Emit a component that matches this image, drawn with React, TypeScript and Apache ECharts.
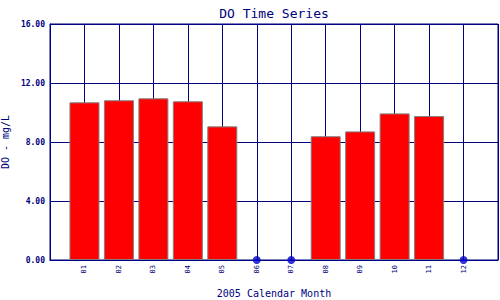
import React, { useEffect, useRef } from "react";
import * as echarts from "echarts";

const months = ["01", "02", "03", "04", "05", "06", "07", "08", "09", "10", "11", "12"];
const doValues: (number | null)[] = [10.69, 10.83, 10.96, 10.76, 9.06, null, null, 8.39, 8.72, 9.94, 9.76, null];
const missingMonths = [6, 7, 12];
const yTicks = [0, 4, 8, 12, 16];

const NAVY = "#000080";
const MONO = "'DejaVu Sans Mono', 'Liberation Mono', monospace";

export default function App() {
  const ref = useRef<HTMLDivElement>(null);
  useEffect(() => {
    document.body.style.margin = "0";
    if (!ref.current) return;
    const chart = echarts.init(ref.current, null, { renderer: "svg" });
    const barData = doValues
      .map((v, i) => (v == null ? null : [i + 1, v]))
      .filter((d) => d !== null);
    chart.setOption({
      animation: false,
      backgroundColor: "#ffffff",
      title: {
        text: "DO Time Series",
        left: 269,
        top: 2,
        textAlign: "center",
        textStyle: { color: NAVY, fontFamily: MONO, fontSize: 13, fontWeight: "normal" },
      },
      grid: {
        left: 50,
        right: 2,
        top: 24,
        bottom: 40,
        containLabel: false,
        outerBoundsMode: "none",
        show: true,
        borderColor: NAVY,
        borderWidth: 1,
        backgroundColor: "#ffffff",
      },
      xAxis: {
        type: "value",
        min: 0,
        max: 13,
        interval: 1,
        name: "2005 Calendar Month",
        nameLocation: "middle",
        nameGap: 28,
        nameTextStyle: { color: NAVY, fontFamily: MONO, fontSize: 10 },
        axisLine: { show: true, lineStyle: { color: NAVY, width: 1 } },
        axisTick: { show: false },
        axisLabel: {
          rotate: 90,
          color: NAVY,
          fontFamily: MONO,
          fontSize: 7,
          margin: 5,
          showMinLabel: false,
          showMaxLabel: false,
          formatter: (v: number) => (v >= 1 && v <= 12 ? months[v - 1] : ""),
        },
        splitLine: { show: true, lineStyle: { color: NAVY, width: 1 } },
      },
      yAxis: {
        type: "value",
        min: 0,
        max: 16,
        interval: 4,
        name: "DO - mg/L",
        nameLocation: "middle",
        nameGap: 36,
        nameTextStyle: { color: NAVY, fontFamily: MONO, fontSize: 10 },
        axisLine: { show: true, lineStyle: { color: NAVY, width: 1 } },
        axisTick: { show: false },
        axisLabel: {
          color: NAVY,
          fontFamily: MONO,
          fontSize: 8,
          fontWeight: "bold",
          margin: 5,
          formatter: (v: number) => (yTicks.includes(v) ? v.toFixed(2) : ""),
        },
        splitLine: { show: true, lineStyle: { color: NAVY, width: 1 } },
      },
      series: [
        {
          type: "bar",
          data: barData,
          barWidth: 30,
          itemStyle: { color: "#ff0000", borderColor: "#808080", borderWidth: 1 },
        },
        {
          type: "scatter",
          data: missingMonths.map((m) => [m, 0]),
          symbol: "circle",
          symbolSize: 8,
          clip: false,
          itemStyle: { color: "#0000cc" },
          z: 5,
        },
      ],
    });
    return () => chart.dispose();
  }, []);
  return <div ref={ref} style={{ width: 500, height: 300, position: "absolute", left: 0, top: 0 }} />;
}
